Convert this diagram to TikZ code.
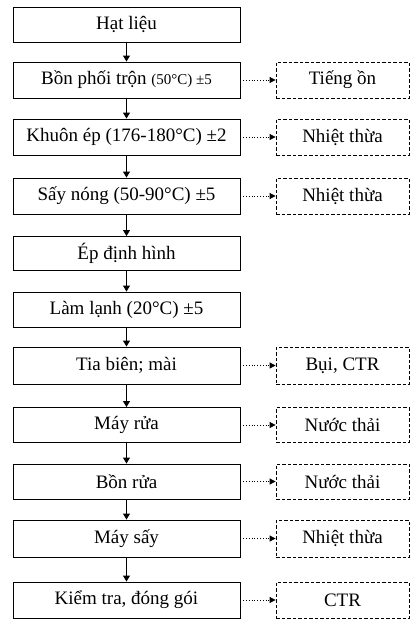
\documentclass[tikz,border=0pt]{standalone}
\usepackage{fontspec}
\setmainfont{Liberation Serif}
\usetikzlibrary{arrows.meta}
\begin{document}
\begin{tikzpicture}[x=1pt,y=-1pt,
  stepbox/.style={draw,line width=0.9pt,minimum width=227pt,inner sep=0pt,font=\fontsize{19}{22}\selectfont},
  outbox/.style={draw,dash pattern=on 3.5pt off 2pt,line width=0.8pt,minimum width=133pt,inner sep=0pt,font=\fontsize{19}{22}\selectfont},
  flow/.style={line width=0.9pt,-{Triangle[length=6pt,width=7pt]}},
  emit/.style={dotted,line width=0.8pt,-{Triangle[length=6pt,width=6pt]}}]
\useasboundingbox (0,0) rectangle (418,625);
\node[stepbox,minimum height=35pt] (s1) at (126.5,24.5) {Hạt liệu};
\node[stepbox,minimum height=36pt] (s2) at (126.5,80) {Bồn phối trộn {\fontsize{15}{17}\selectfont(50°C) ±5}};
\node[stepbox,minimum height=36pt] (s3) at (126.5,137) {Khuôn ép (176-180°C) ±2};
\node[stepbox,minimum height=36pt] (s4) at (126.5,196) {Sấy nóng (50-90°C) ±5};
\node[stepbox,minimum height=34pt] (s5) at (126.5,253.5) {Ép định hình};
\node[stepbox,minimum height=35pt] (s6) at (126.5,309.5) {Làm lạnh (20°C) ±5};
\node[stepbox,minimum height=37pt] (s7) at (126.5,365.5) {Tia biên; mài};
\node[stepbox,minimum height=35pt] (s8) at (126.5,425) {Máy rửa};
\node[stepbox,minimum height=35pt] (s9) at (126.5,481.5) {Bồn rửa};
\node[stepbox,minimum height=37pt] (s10) at (126.5,538.5) {Máy sấy};
\node[stepbox,minimum height=36pt] (s11) at (126.5,600) {Kiểm tra, đóng gói};
\node[outbox,minimum height=36pt] (o2) at (342.5,80) {Tiếng ồn};
\node[outbox,minimum height=36pt] (o3) at (342.5,137) {Nhiệt thừa};
\node[outbox,minimum height=36pt] (o4) at (342.5,196) {Nhiệt thừa};
\node[outbox,minimum height=37pt] (o7) at (342.5,365.5) {Bụi, CTR};
\node[outbox,minimum height=35pt] (o8) at (342.5,425) {Nước thải};
\node[outbox,minimum height=35pt] (o9) at (342.5,481.5) {Nước thải};
\node[outbox,minimum height=37pt] (o10) at (342.5,538.5) {Nhiệt thừa};
\node[outbox,minimum height=36pt] (o11) at (342.5,600) {CTR};
\foreach \a/\b in {s1/s2,s2/s3,s3/s4,s4/s5,s5/s6,s6/s7,s7/s8,s8/s9,s9/s10,s10/s11}
  \draw[flow] (\a.south) -- (\b.north);
\foreach \i in {2,3,4,7,8,9,10,11}
  \draw[emit] (s\i.east) -- (o\i.west);
\end{tikzpicture}
\end{document}
